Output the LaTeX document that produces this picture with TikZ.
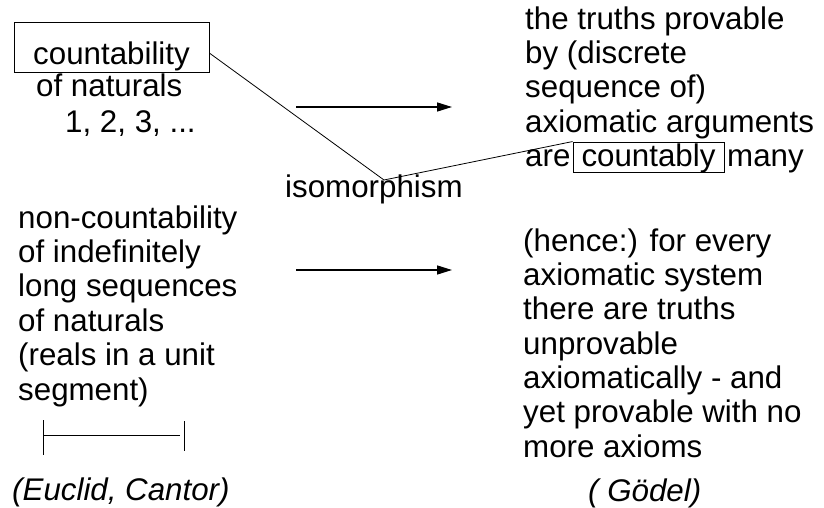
\documentclass[tikz,border=0pt]{standalone}
\usepackage{fontspec}
\setmainfont{Liberation Sans}
\usetikzlibrary{arrows.meta,calc}
\newcommand{\reffont}{\fontsize{31.3}{34.4}\selectfont}
\begin{document}
\begin{tikzpicture}[x=1pt,y=-1pt,
  txt/.style={anchor=base west,inner sep=0pt,align=left,font=\reffont},
  boxed/.style={draw,line width=0.9pt,inner sep=0pt,anchor=base,font=\reffont},
  thin/.style={line width=0.8pt},
  arr/.style={line width=1.4pt,-{Triangle[length=15pt,width=9pt]}}]
\useasboundingbox (0,0) rectangle (824,508);
% top left
\node[boxed,minimum width=195pt,text height=43pt,text depth=7pt] (box1) at (111.5,65) {countability};
\node[txt] (nat) at (36,97) {of naturals};
\node[txt] (seq) at (65,132) {1, 2, 3, ...};
% top right
\node[txt,font=\fontsize{31.3}{34.3}\selectfont] (truths) at (525,132) {the truths provable\\by (discrete\\sequence of)\\axiomatic arguments};
\node[txt] (are) at (525,166) {are};
\node[boxed,minimum width=151pt,text height=24pt,text depth=6pt] (cb) at (648.5,166) {countably};
\node[txt] (many) at (727,166) {many};
% isomorphism
\node[txt] (iso) at (285,197) {isomorphism};
\coordinate (apex) at (384,180);
\draw[thin] ($(box1.north east)!0.62!(box1.south east)$) -- (apex) -- (cb.north west);
% arrows
\coordinate (a1s) at (296,107);
\coordinate (a1e) at (452,107);
\coordinate (a2s) at (296,270);
\coordinate (a2e) at (452,270);
\draw[arr] (a1s) -- (a1e);
\draw[arr] (a2s) -- (a2e);
% bottom left
\node[txt] (noncount) at (18,400) {non-countability\\of indefinitely\\long sequences\\of naturals\\(reals in a unit\\segment)};
\coordinate (sl) at (43,435);
\coordinate (sr) at (180,435);
\draw[thin] (sl) -- (sr);
\draw[thin] (43,420) -- (43,455);
\draw[thin] (184,421) -- (184,451);
\node[txt,font=\reffont\itshape] (euclid) at (12,500) {(Euclid, Cantor)};
% bottom right
\node[txt,font=\fontsize{31.3}{34.3}\selectfont] (hence) at (523,457) {(hence:) for every\\axiomatic system\\there are truths\\unprovable\\axiomatically - and\\yet provable with no\\more axioms};
\node[txt,font=\reffont\itshape] (godel) at (588,501) {( Gödel)};
\end{tikzpicture}
\end{document}
